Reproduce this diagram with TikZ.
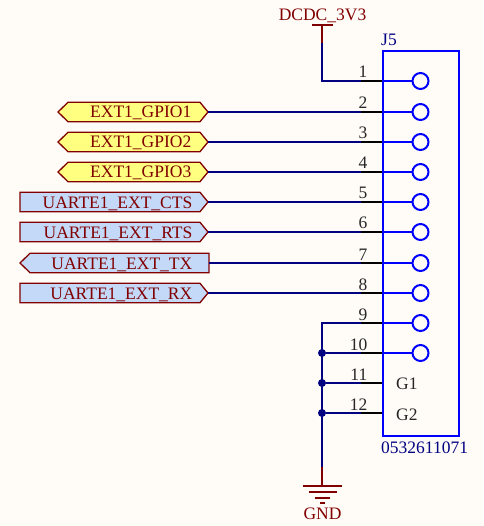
\documentclass[tikz,border=0pt]{standalone}
\usepackage{fontspec}
\setmainfont{Liberation Serif}
\usetikzlibrary{calc}
\definecolor{bgc}{HTML}{FFFCF8}
\definecolor{wirec}{HTML}{000080}
\definecolor{portc}{HTML}{800000}
\definecolor{compc}{HTML}{0000FF}
\definecolor{yelc}{HTML}{FFFF80}
\definecolor{bluc}{HTML}{C4D8F8}
\definecolor{txtb}{HTML}{000080}
\tikzset{
  wire/.style={draw=wirec,line width=2pt},
  rwire/.style={draw=portc,line width=2pt},
  stub/.style={draw=black,line width=2pt},
  comp/.style={draw=compc,line width=2pt},
  pinc/.style={circle,draw=compc,line width=2pt,fill=none,minimum size=16pt,inner sep=0pt},
  junc/.style={circle,fill=wirec,minimum size=8pt,inner sep=0pt},
  labelfont/.style={font=\fontsize{17.5}{18}\selectfont,inner sep=0pt},
  porttxt/.style={labelfont,text=portc,anchor=base east},
  pinnum/.style={labelfont,text=black!85,anchor=base east},
  bluetxt/.style={labelfont,text=txtb,anchor=base west},
  portbox/.style={draw=portc,line width=1.3pt,line join=miter},
}
\newcommand{\pinrow}[2]{%
  \coordinate (s#1) at (361,#2);
  \coordinate (e#1) at (383,#2);
  \draw[stub] (s#1) -- (e#1);
  \node[pinnum] (n#1) at (367.5,#2-3) {#1};
}
\begin{document}
\begin{tikzpicture}[x=1pt,y=-1pt]
\useasboundingbox (0,0) rectangle (483,526);
\fill[bgc] (0,0) rectangle (483,526);
% pins
\foreach \n/\y in {1/81,2/112,3/142,4/172,5/202,6/232,7/263,8/293,9/323,10/353}{
  \node[pinc] (c\n) at (420.5,\y) {};
  \coordinate (b\n) at (383,\y);
  \draw[comp] (b\n) -- (c\n);
}
\pinrow{1}{81}\pinrow{2}{112}\pinrow{3}{142}\pinrow{4}{172}
\pinrow{5}{202}\pinrow{6}{232}\pinrow{7}{263}\pinrow{8}{293}
\pinrow{9}{323}\pinrow{10}{353}\pinrow{11}{383}\pinrow{12}{413}
% component
\draw[comp] (383,51) rectangle (458.5,436);
\node[bluetxt] (ref) at (381,46) {J5};
\node[bluetxt] (val) at (381,453.5) {0532611071};
\node[labelfont,text=black!85,anchor=base west] (g1) at (396,389) {G1};
\node[labelfont,text=black!85,anchor=base west] (g2) at (396,420) {G2};
% ports
\foreach \n/\y/\t in {2/112/EXT1\_GPIO1,3/142/EXT1\_GPIO2,4/172/EXT1\_GPIO3}{
  \draw[portbox,fill=yelc] (58,\y) -- (68,\y-9.7) -- (200,\y-9.7) -- (208,\y) -- (200,\y+9.7) -- (68,\y+9.7) -- cycle;
  \coordinate (p\n) at (208,\y);
  \node[porttxt,anchor=base west] (t\n) at (90,\y+6) {\t};
  \draw[wire] (p\n) -- (s\n);
}
\foreach \n/\y/\t in {5/202/UARTE1\_EXT\_CTS,6/232/UARTE1\_EXT\_RTS,8/293/UARTE1\_EXT\_RX}{
  \draw[portbox,fill=bluc] (20,\y-9.7) -- (200,\y-9.7) -- (208,\y) -- (200,\y+9.7) -- (20,\y+9.7) -- cycle;
  \coordinate (p\n) at (208,\y);
  \node[porttxt] (t\n) at (192.5,\y+6) {\t};
  \draw[wire] (p\n) -- (s\n);
}
\draw[portbox,fill=bluc] (20,263) -- (30,253.3) -- (209,253.3) -- (209,272.7) -- (30,272.7) -- cycle;
\coordinate (p7) at (209,263);
\node[porttxt] (t7) at (192.5,269) {UARTE1\_EXT\_TX};
\draw[wire] (p7) -- (s7);
% power
\coordinate (vb) at (322,25);
\coordinate (vm) at (322,43);
\coordinate (vc) at (322,81);
\draw[rwire] (312,25) -- (333,25);
\draw[rwire] (vb) -- (vm);
\draw[wire] (vm) -- (vc) -- (s1);
\node[labelfont,text=portc,anchor=base] (vcc) at (322.5,21) {DCDC\_3V3};
% ground
\coordinate (gt) at (322,323);
\coordinate (gm) at (322,467);
\coordinate (gb) at (322,485);
\draw[wire] (s9) -- (gt) -- (gm);
\draw[rwire] (gm) -- (gb);
\draw[rwire] (303,485.5) -- (342,485.5);
\draw[rwire] (309,491.5) -- (337,491.5);
\draw[rwire] (315,497.5) -- (330,497.5);
\draw[rwire] (320,503) -- (325,503);
\node[labelfont,text=portc,anchor=base] (gnd) at (322.5,519.5) {GND};
\foreach \n/\y in {10/353,11/383,12/413}{
  \node[junc] (j\n) at (322,\y) {};
  \draw[wire] (j\n) -- (s\n);
}
\end{tikzpicture}
\end{document}
